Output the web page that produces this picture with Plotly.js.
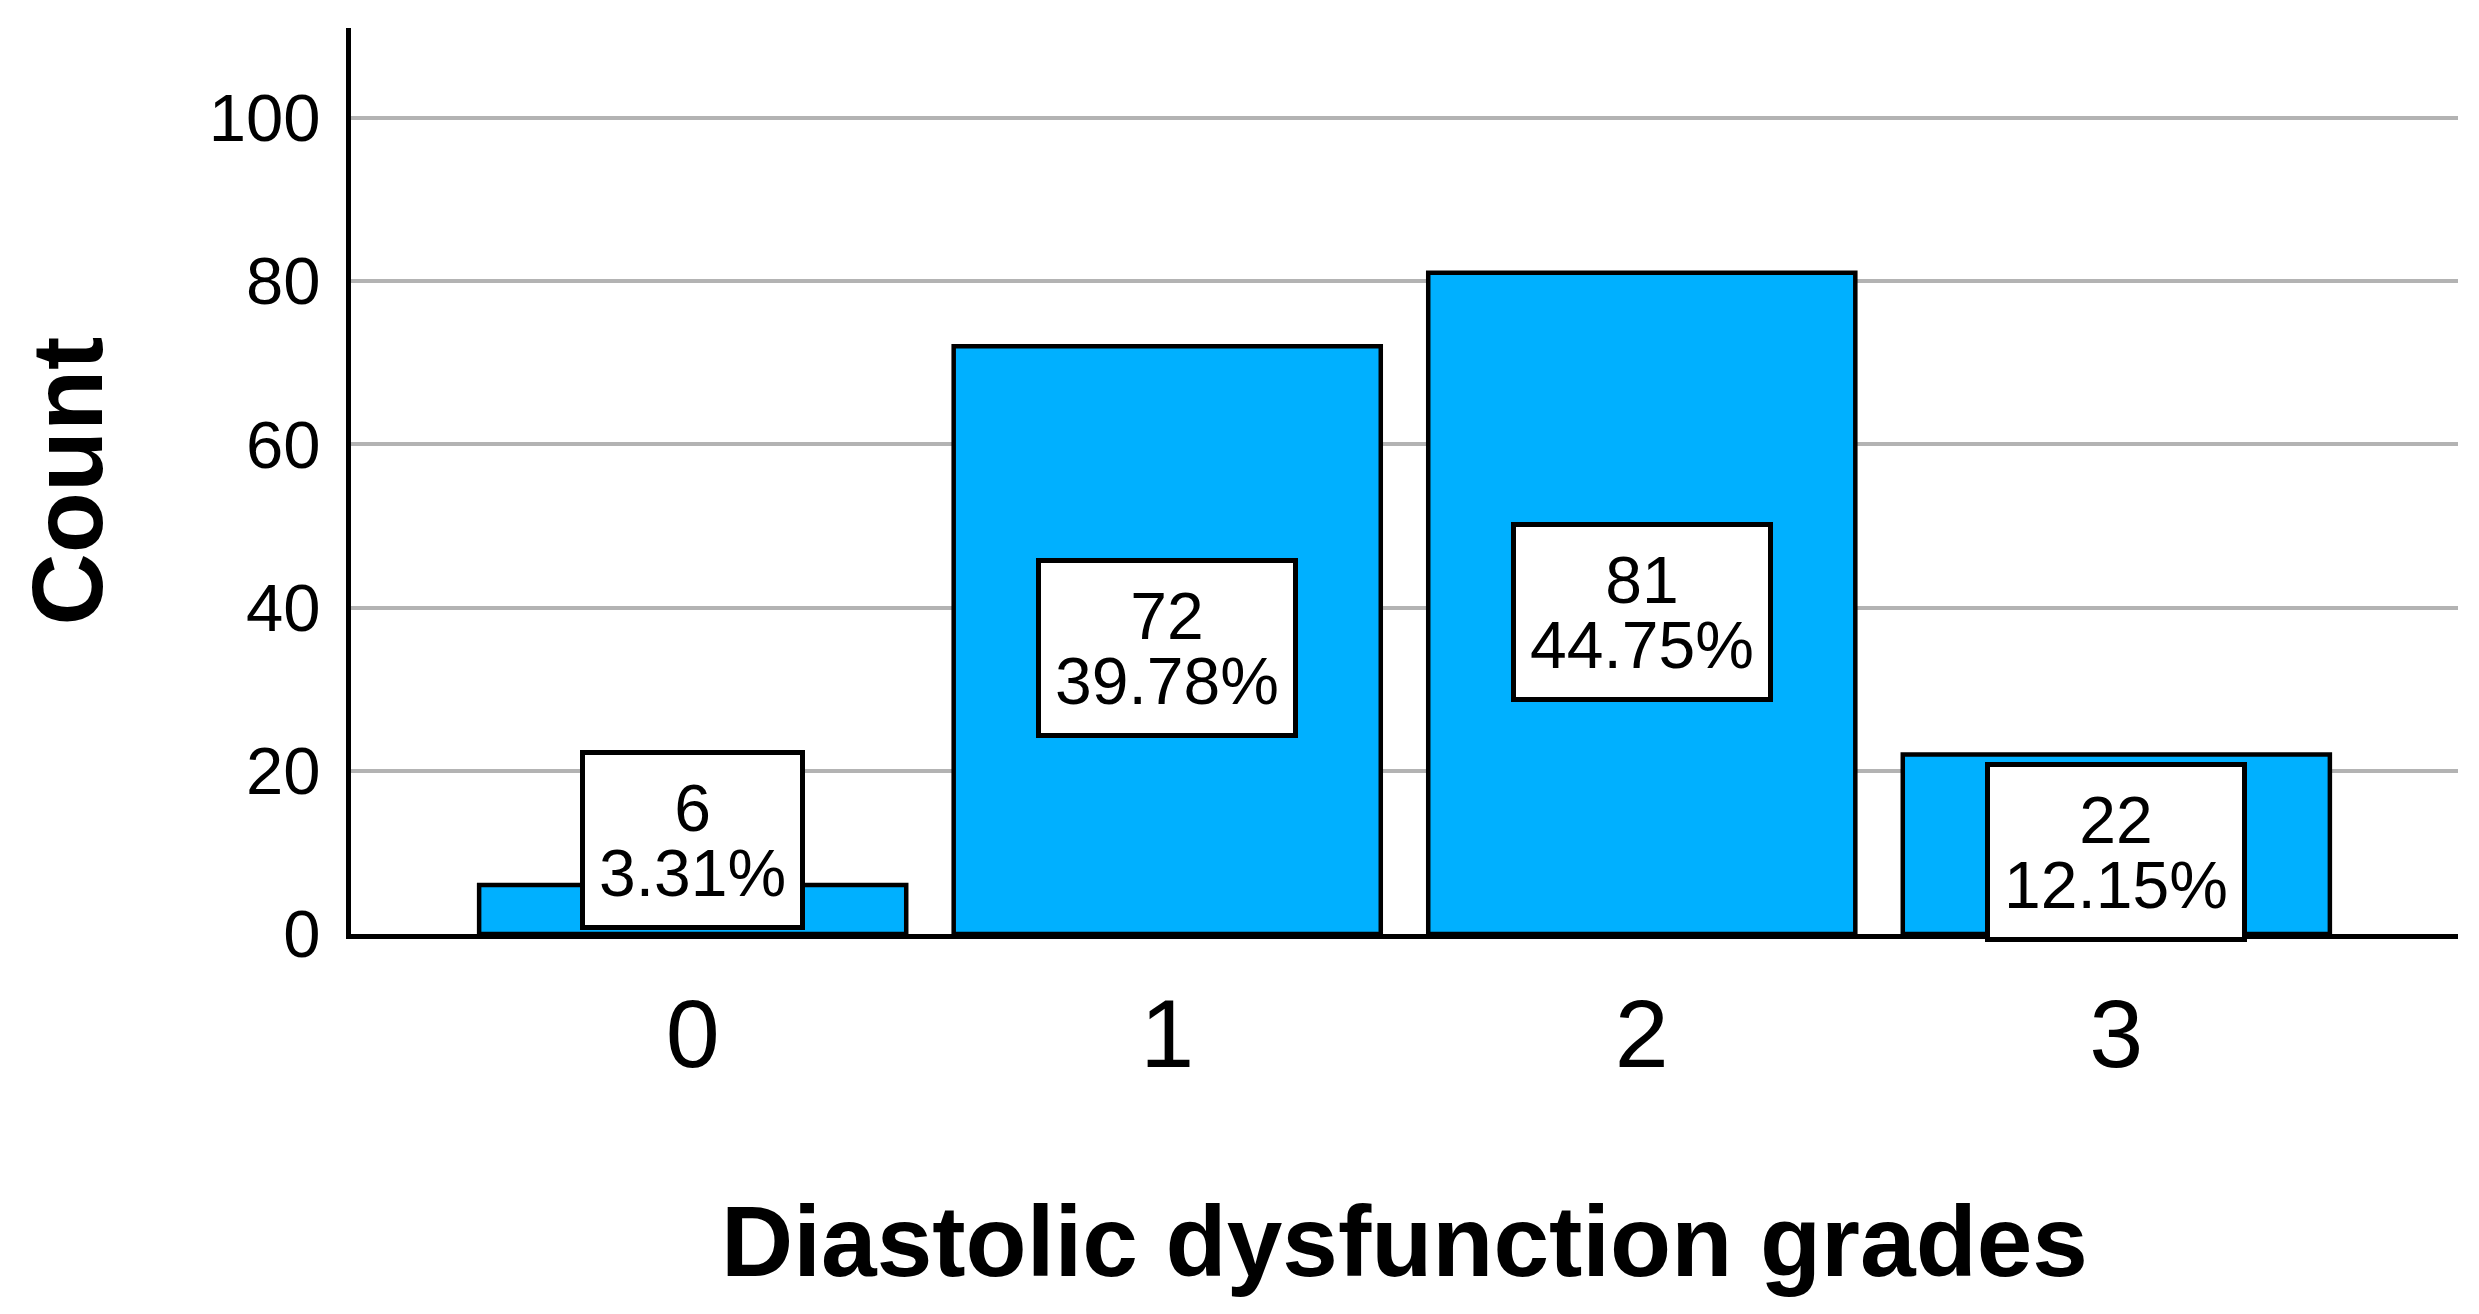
<!DOCTYPE html>
<html>
<head>
<meta charset="utf-8">
<script src="https://cdn.plot.ly/plotly-3.0.1.min.js"></script>
<style>
  html, body { margin: 0; padding: 0; background: #ffffff; }
  #chart { width: 2479px; height: 1314px; }
</style>
</head>
<body>
<div id="chart"></div>
<script>
// ---- data ----
const grades = ['0', '1', '2', '3'];
const counts = [6, 72, 81, 22];
const percentLabels = ['3.31%', '39.78%', '44.75%', '12.15%'];
const yTickValues = [0, 20, 40, 60, 80, 100];

const FONT = 'Arial, "Liberation Sans", sans-serif';
const LABEL_SIZE = 66;          // glyph size of the box labels
const LABEL_BASE = 50;          // base size: sets the tight line spacing (1.3 x base)
const barColor = '#00B0FF';

// label box sits near mid-height of the bar; short bars get it lifted above the baseline
function labelY(v) { return v >= 20 ? v / 2 - 1 : 11.5; }

const trace = {
  type: 'bar',
  x: grades,
  y: counts,
  width: 0.9,
  marker: { color: barColor, line: { color: '#000000', width: 4.5 } },
  hoverinfo: 'skip',
  showlegend: false
};

const big = s => '<span style="font-size:' + LABEL_SIZE + 'px">' + s + '</span>';

const annotations = grades.map((g, i) => ({
  x: g, y: labelY(counts[i]), xref: 'x', yref: 'y',
  text: big(String(counts[i])) + '<br>' + big(percentLabels[i]),
  showarrow: false,
  font: { family: FONT, size: LABEL_BASE, color: '#000000' },
  bgcolor: '#ffffff', bordercolor: '#000000', borderwidth: 5, borderpad: 14,
  height: 142,
  align: 'center', valign: 'middle',
  xanchor: 'center', yanchor: 'middle'
}));

const layout = {
  width: 2479, height: 1314,
  paper_bgcolor: '#ffffff', plot_bgcolor: '#ffffff',
  margin: { l: 351, r: 21, t: 28, b: 380, pad: 0 },
  showlegend: false,
  xaxis: {
    type: 'category',
    categoryorder: 'array', categoryarray: grades,
    range: [-0.72, 3.72],
    showline: true, linecolor: '#000000', linewidth: 5,
    showgrid: false, zeroline: false,
    ticks: 'outside', ticklen: 12, tickcolor: 'rgba(0,0,0,0)',
    tickfont: { family: FONT, size: 97, color: '#000000' },
    title: { text: 'Diastolic dysfunction grades', standoff: 120,
             font: { family: FONT, size: 100, color: '#000000', weight: 700 } },
    automargin: false, fixedrange: true
  },
  yaxis: {
    range: [0, 111],
    tickvals: yTickValues,
    showline: true, linecolor: '#000000', linewidth: 5,
    showgrid: true, gridcolor: '#b3b3b3', gridwidth: 4,
    zeroline: false,
    ticks: 'outside', ticklen: 12, tickcolor: 'rgba(0,0,0,0)',
    tickfont: { family: FONT, size: 67, color: '#000000' },
    title: { text: 'Count', standoff: 74,
             font: { family: FONT, size: 100, color: '#000000', weight: 700 } },
    automargin: false, fixedrange: true
  },
  annotations: annotations
};

Plotly.newPlot('chart', [trace], layout, { staticPlot: true, displayModeBar: false });
</script>
</body>
</html>
